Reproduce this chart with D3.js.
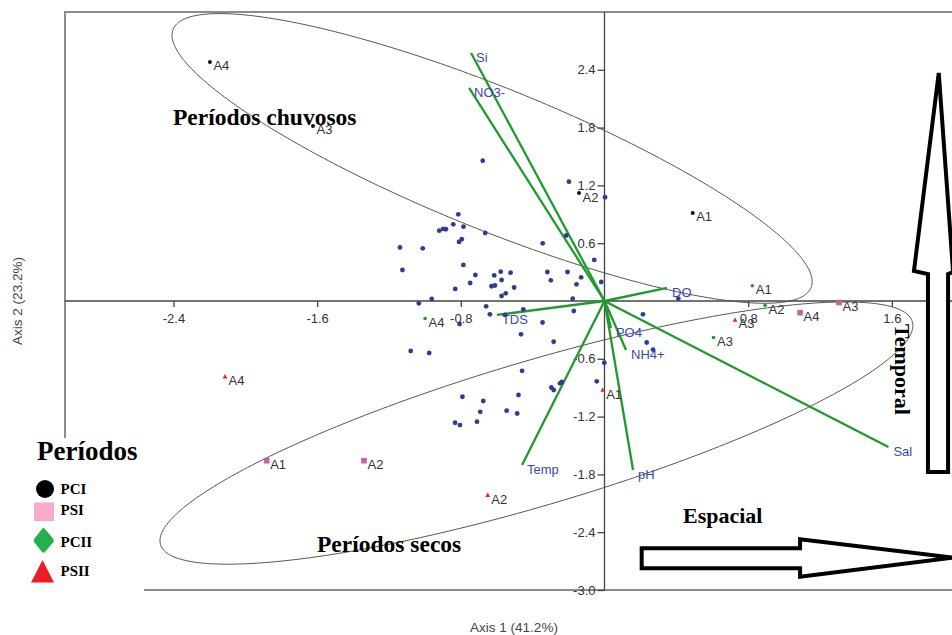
<!DOCTYPE html>
<html>
<head>
<meta charset="utf-8">
<script src="https://cdn.jsdelivr.net/npm/d3@7"></script>
<style>
  html, body { margin: 0; padding: 0; background: #fff; }
  svg { display: block; }
</style>
</head>
<body>
<svg id="chart" width="952" height="635"></svg>
<script>
// ---- PCA scores: unlabeled observations ----
const obsX = [-0.678,-0.198,0.003,-0.814,-0.842,-0.785,-0.920,-0.898,-0.883,-0.664,-0.213,-0.810,-0.795,-0.344,-1.139,-1.012,-0.057,-0.786,-1.125,-0.719,-0.614,-0.578,-0.523,-0.318,-0.206,-0.130,-0.748,-0.573,-0.299,-0.018,-0.629,-0.610,-0.156,-0.831,-0.503,-0.550,-0.573,-0.962,-0.177,-1.034,-0.659,-0.452,-0.171,-0.638,-0.554,-0.807,-0.345,-0.465,-0.283,-1.079,-0.976,-0.001,-0.459,-0.043,-0.237,-0.248,-0.296,-0.283,-0.791,-0.675,-0.479,-0.692,-0.545,-0.486,-0.832,-0.805,-0.710,0.411,0.214,0.235,0.270];
const obsY = [1.457,1.239,1.077,0.900,0.796,0.772,0.730,0.748,0.745,0.706,0.680,0.613,0.641,0.599,0.556,0.547,0.426,0.374,0.322,0.270,0.265,0.304,0.294,0.301,0.301,0.246,0.187,0.218,0.215,0.197,0.153,0.161,0.173,0.125,0.140,0.080,0.052,0.021,0.024,-0.024,-0.055,-0.086,-0.104,-0.138,-0.145,-0.239,-0.223,-0.346,-0.423,-0.519,-0.540,-0.641,-0.725,-0.834,-0.841,-0.855,-0.898,-0.924,-0.994,-1.038,-0.976,-1.150,-1.139,-1.168,-1.264,-1.288,-1.253,0.024,-0.138,-0.431,-0.504];

// ---- PCA scores: sampling sites per period ----
const siteLabels = ["A1","A2","A3","A4"];
const pciX  = [0.491,-0.142,-1.623,-2.197];
const pciY  = [0.914,1.121,1.817,2.482];
const psiX  = [-1.881,-1.339,1.306,1.089];
const psiY  = [-1.658,-1.658,-0.016,-0.121];
const pciiX = [0.823,0.894,0.607,-0.999];
const pciiY = [0.159,-0.045,-0.379,-0.182];
const psiiX = [-0.010,-0.650,0.727,-2.113];
const psiiY = [-0.924,-2.015,-0.197,-0.786];

// ---- Loadings (biplot vectors) ----
const varNames = ["Si","NO3-","DO","TDS","PO4","NH4+","Sal","pH","Temp"];
const varX = [-0.743,-0.754,0.348,-0.599,0.036,0.120,1.581,0.159,-0.459];
const varY = [2.575,2.212,0.135,-0.145,-0.280,-0.509,-1.516,-1.755,-1.703];

// ---- Group ellipses: centre, major and minor semi-axis vectors ----
const ellCX = [-0.626,-0.379];
const ellCY = [1.480,-1.371];
const ellAX = [1.776,2.093];
const ellAY = [-1.341,1.157];
const ellBX = [-0.148,0.114];
const ellBY = [-0.680,-0.717];

// ---- Axis ticks ----
const xTicks = [-2.4,-1.6,-0.8,0.8,1.6];
const yTicks = [2.4,1.8,1.2,0.6,-0.6,-1.2,-1.8,-2.4,-3.0];

// ---- Legend ----
const legendNames = ["PCI","PSI","PCII","PSII"];

const SANS = "'Liberation Sans', Arial, sans-serif";
const SERIF = "'Liberation Serif', 'Times New Roman', serif";

const svg = d3.select("#chart");
const x = d3.scaleLinear().domain([-3, 2]).range([65.7, 963.7]);
const y = d3.scaleLinear().domain([-3, 3]).range([590, 12]);

// plot frame
svg.append("rect")
  .attr("x", 65).attr("y", 12).attr("width", 960).attr("height", 578)
  .attr("fill", "none").attr("stroke", "#8c8c8c").attr("stroke-width", 2);

// zero lines
svg.append("line").attr("x1", 65).attr("x2", 952)
  .attr("y1", y(0)).attr("y2", y(0)).attr("stroke", "#444").attr("stroke-width", 1.3);
svg.append("line").attr("x1", x(0)).attr("x2", x(0))
  .attr("y1", 12).attr("y2", 590).attr("stroke", "#444").attr("stroke-width", 1.3);

// axes through the origin
const fmt = d => d.toFixed(1);
const gx = svg.append("g").attr("transform", `translate(0,${y(0)})`)
  .call(d3.axisBottom(x).tickValues(xTicks).tickFormat(fmt).tickSize(6).tickPadding(6.5));
const gy = svg.append("g").attr("transform", `translate(${x(0)},0)`)
  .call(d3.axisLeft(y).tickValues(yTicks).tickFormat(fmt).tickSize(7).tickPadding(2));
[gx, gy].forEach(g => {
  g.select(".domain").remove();
  g.selectAll("line").attr("stroke", "#444").attr("stroke-width", 1.3);
  g.selectAll("text").attr("fill", "#333").style("font-family", SANS).style("font-size", "13px");
});

// ellipses
const line = d3.line().curve(d3.curveLinearClosed);
ellCX.forEach((cx, i) => {
  const pts = d3.range(0, 360, 1).map(deg => {
    const t = deg * Math.PI / 180;
    return [x(cx + ellAX[i] * Math.cos(t) + ellBX[i] * Math.sin(t)),
            y(ellCY[i] + ellAY[i] * Math.cos(t) + ellBY[i] * Math.sin(t))];
  });
  svg.append("path").attr("d", line(pts))
    .attr("fill", "none").attr("stroke", "#555").attr("stroke-width", 1);
});

// loading vectors
const vg = svg.append("g");
varNames.forEach((n, i) => {
  vg.append("line")
    .attr("x1", x(0)).attr("y1", y(0)).attr("x2", x(varX[i])).attr("y2", y(varY[i]))
    .attr("stroke", "#1f9a2e").attr("stroke-width", 2.3);
});

// unlabeled observations
svg.append("g").selectAll("circle").data(obsX).join("circle")
  .attr("cx", d => x(d)).attr("cy", (d, i) => y(obsY[i]))
  .attr("r", 2.4).attr("fill", "#2e3c96");

// site markers
const sg = svg.append("g");
function siteLabel(px, py, t) {
  sg.append("text").attr("x", px + 3.5).attr("y", py + 8.5).text(t)
    .attr("fill", "#333").style("font-family", SANS).style("font-size", "13px");
}
pciX.forEach((v, i) => {
  sg.append("circle").attr("cx", x(v)).attr("cy", y(pciY[i])).attr("r", 2).attr("fill", "#111");
  siteLabel(x(v), y(pciY[i]), siteLabels[i]);
});
psiX.forEach((v, i) => {
  sg.append("rect").attr("x", x(v) - 2.8).attr("y", y(psiY[i]) - 2.8)
    .attr("width", 5.6).attr("height", 5.6).attr("fill", "#c4619f");
  siteLabel(x(v), y(psiY[i]), siteLabels[i]);
});
pciiX.forEach((v, i) => {
  sg.append("circle").attr("cx", x(v)).attr("cy", y(pciiY[i])).attr("r", 1.8).attr("fill", "#1f9a2e");
  siteLabel(x(v), y(pciiY[i]), siteLabels[i]);
});
psiiX.forEach((v, i) => {
  const cx = x(v), cy = y(psiiY[i]);
  sg.append("path").attr("d", `M${cx},${cy - 2.6}L${cx + 2.4},${cy + 1.8}L${cx - 2.4},${cy + 1.8}Z`)
    .attr("fill", "#e8242a");
  siteLabel(cx, cy, siteLabels[i]);
});

// vector labels
varNames.forEach((n, i) => {
  vg.append("text").attr("x", x(varX[i]) + 5).attr("y", y(varY[i]) + 9).text(n)
    .attr("fill", "#3a49a8").style("font-family", SANS).style("font-size", "13px");
});

// axis titles
svg.append("text").attr("x", 514).attr("y", 632).attr("text-anchor", "middle")
  .text("Axis 1 (41.2%)").attr("fill", "#444").style("font-family", SANS).style("font-size", "13.5px");
svg.append("text").attr("transform", "translate(22,301) rotate(-90)").attr("text-anchor", "middle")
  .text("Axis 2 (23.2%)").attr("fill", "#444").style("font-family", SANS).style("font-size", "13.5px");

// group annotations
function serifText(px, py, t, size, rot) {
  const tx = svg.append("text").text(t).attr("fill", "#000")
    .style("font-family", SERIF).style("font-weight", "bold").style("font-size", size + "px");
  if (rot) tx.attr("transform", `translate(${px},${py}) rotate(${rot})`);
  else tx.attr("x", px).attr("y", py);
  return tx;
}
serifText(173, 125, "Períodos chuvosos", 23.5);
serifText(317, 552, "Períodos secos", 23.5);
serifText(683, 523, "Espacial", 22);
serifText(895, 324, "Temporal", 22, 90);

// direction arrows (outlined block arrows)
const arrowUp = [[1.861,2.367],[1.941,0.301],[1.913,0.280],[1.913,-1.775],[1.801,-1.775],[1.801,0.280],[1.723,0.311]];
const arrowRight = [[0.207,-2.567],[1.089,-2.567],[1.089,-2.474],[1.940,-2.663],[1.089,-2.862],[1.089,-2.775],[0.207,-2.775]];
[arrowUp, arrowRight].forEach(a => {
  svg.append("path").attr("d", line(a.map(p => [x(p[0]), y(p[1])])))
    .attr("fill", "#fff").attr("stroke", "#000").attr("stroke-width", 4)
    .attr("stroke-linejoin", "miter");
});

// legend
svg.append("rect").attr("x", 0).attr("y", 438).attr("width", 144).attr("height", 197).attr("fill", "#fff");
serifText(37, 460, "Períodos", 27);
const lg = svg.append("g");
lg.append("circle").attr("cx", 45).attr("cy", 489).attr("r", 9).attr("fill", "#000");
lg.append("rect").attr("x", 34).attr("y", 502.5).attr("width", 20).attr("height", 18.5).attr("fill", "#f9a9c9");
lg.append("path").attr("d", "M43.5,527.5 Q45,529 53,538.5 Q54.5,540.5 53,542.5 L45,552 Q43.5,553.5 42,552 L34.5,542.5 Q33,540.5 34.5,538.5 L42,529 Q43.5,527.5 43.5,527.5Z")
  .attr("fill", "#22b14c");
lg.append("path").attr("d", "M42.5,560 L54,582.5 L31,582.5 Z").attr("fill", "#ed1c24");
const legY = [494, 515, 546.5, 576];
legendNames.forEach((n, i) => {
  lg.append("text").attr("x", 60.5).attr("y", legY[i]).text(n).attr("fill", "#000")
    .style("font-family", SERIF).style("font-weight", "bold").style("font-size", "15px");
});
</script>
</body>
</html>
